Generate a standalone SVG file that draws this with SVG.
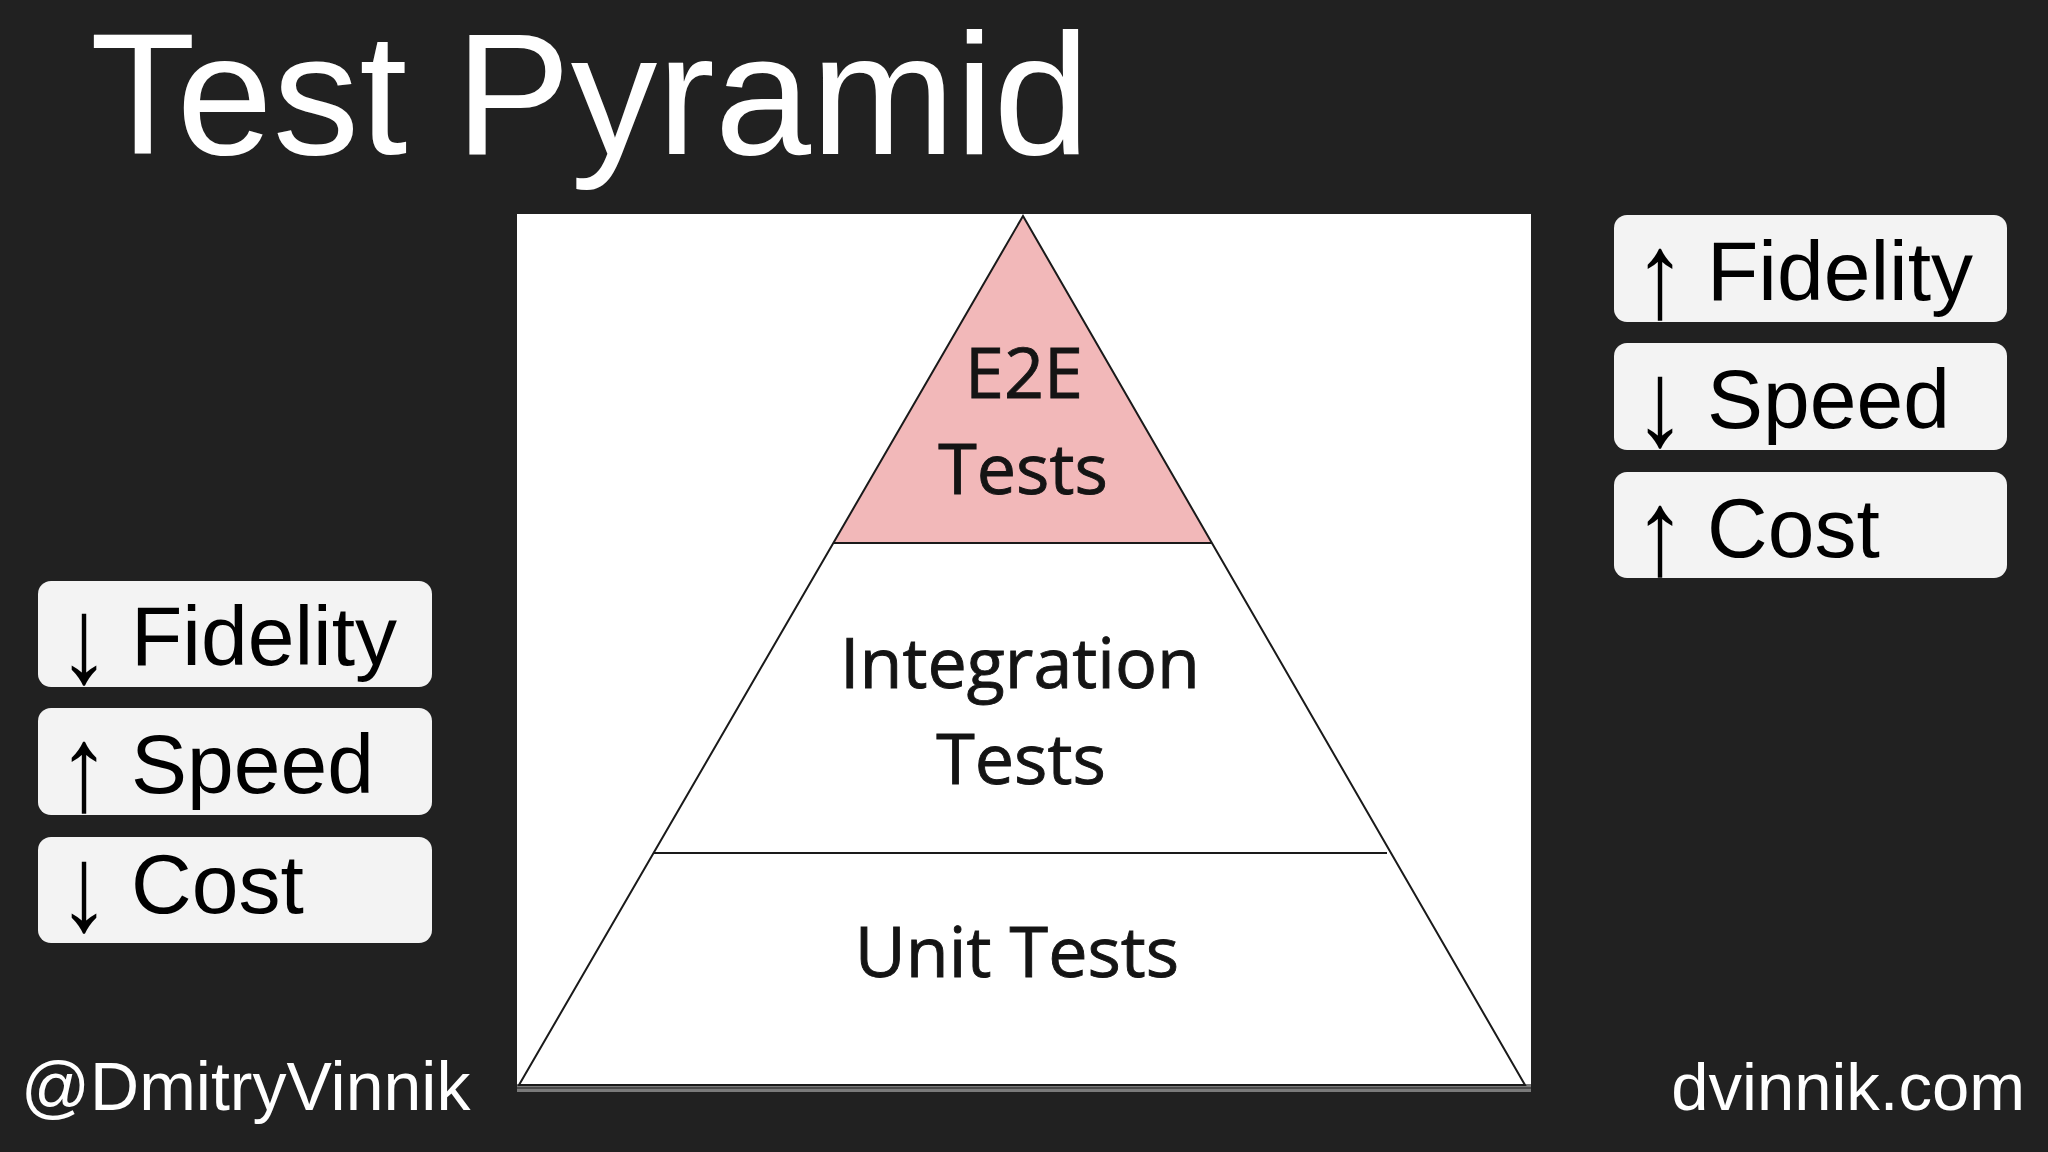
<svg xmlns="http://www.w3.org/2000/svg" width="2048" height="1152" viewBox="0 0 2048 1152">
  <style>
    .title { font-family: "Liberation Sans", Arial, sans-serif; fill: #ffffff; }
    .box { fill: #f3f3f3; }
    .boxtxt { font-family: "Liberation Sans", Arial, sans-serif; font-size: 84px; fill: #000000; }
    .arrow { font-family: "Liberation Sans", Arial, sans-serif; font-size: 84px; fill: #000000; text-anchor: middle; }
    .ptxt { font-family: "Open Sans", "Noto Sans", sans-serif; font-size: 70px; fill: #141414; stroke: #141414; stroke-width: 0.9; text-anchor: middle; }
    .edge { stroke: #1a1a1a; stroke-width: 2; fill: none; }
  </style>
  <rect x="0" y="0" width="2048" height="1152" fill="#212121"/>

  <text class="title" x="90" y="154" font-size="173">Test Pyramid</text>

  <g id="panel">
    <rect x="517" y="214" width="1014" height="878" fill="#ffffff"/>
    <rect x="517" y="1084" width="1014" height="8" fill="#7a7a7a"/>
    <line x1="517" y1="1088" x2="1531" y2="1088" stroke="#4a4a4a" stroke-width="2"/>
  </g>

  <g id="e2e">
    <polygon points="1023,216 834,543 1212,543" fill="#f2b8b9"/>
    <text class="ptxt" x="1024" y="398">E2E</text>
    <text class="ptxt" x="1023" y="494">Tests</text>
  </g>
  <g id="integration">
    <text class="ptxt" x="1020" y="688">Integration</text>
    <text class="ptxt" x="1021" y="784">Tests</text>
  </g>
  <g id="unit">
    <text class="ptxt" x="1017" y="977">Unit Tests</text>
  </g>

  <g id="connectors">
    <polygon class="edge" points="1023,216 519,1085 1525,1085"/>
    <line class="edge" x1="834" y1="543" x2="1212" y2="543" stroke-width="2.5"/>
    <line class="edge" x1="654" y1="853" x2="1387" y2="853" stroke-width="2.5"/>
  </g>

  <g id="right-fidelity">
    <rect class="box" x="1614" y="215" width="393" height="107" rx="13"/>
    <text class="arrow" transform="translate(1660,317) scale(1.25,1.45)">↑</text>
    <text class="boxtxt" x="1707" y="300">Fidelity</text>
  </g>
  <g id="right-speed">
    <rect class="box" x="1614" y="343" width="393" height="107" rx="13"/>
    <text class="arrow" transform="translate(1660,445) scale(1.25,1.45)">↓</text>
    <text class="boxtxt" x="1707" y="428">Speed</text>
  </g>
  <g id="right-cost">
    <rect class="box" x="1614" y="472" width="393" height="106" rx="13"/>
    <text class="arrow" transform="translate(1660,574) scale(1.25,1.45)">↑</text>
    <text class="boxtxt" x="1707" y="557">Cost</text>
  </g>

  <g id="left-fidelity">
    <rect class="box" x="38" y="581" width="394" height="106" rx="13"/>
    <text class="arrow" transform="translate(84,682) scale(1.25,1.45)">↓</text>
    <text class="boxtxt" x="131" y="665">Fidelity</text>
  </g>
  <g id="left-speed">
    <rect class="box" x="38" y="708" width="394" height="107" rx="13"/>
    <text class="arrow" transform="translate(84,810) scale(1.25,1.45)">↑</text>
    <text class="boxtxt" x="131" y="793">Speed</text>
  </g>
  <g id="left-cost">
    <rect class="box" x="38" y="837" width="394" height="106" rx="13"/>
    <text class="arrow" transform="translate(84,930) scale(1.25,1.45)">↓</text>
    <text class="boxtxt" x="131" y="913">Cost</text>
  </g>

  <text class="title" x="21" y="1110" font-size="68">@DmitryVinnik</text>
  <text class="title" x="2025" y="1110" font-size="67" text-anchor="end">dvinnik.com</text>
</svg>
